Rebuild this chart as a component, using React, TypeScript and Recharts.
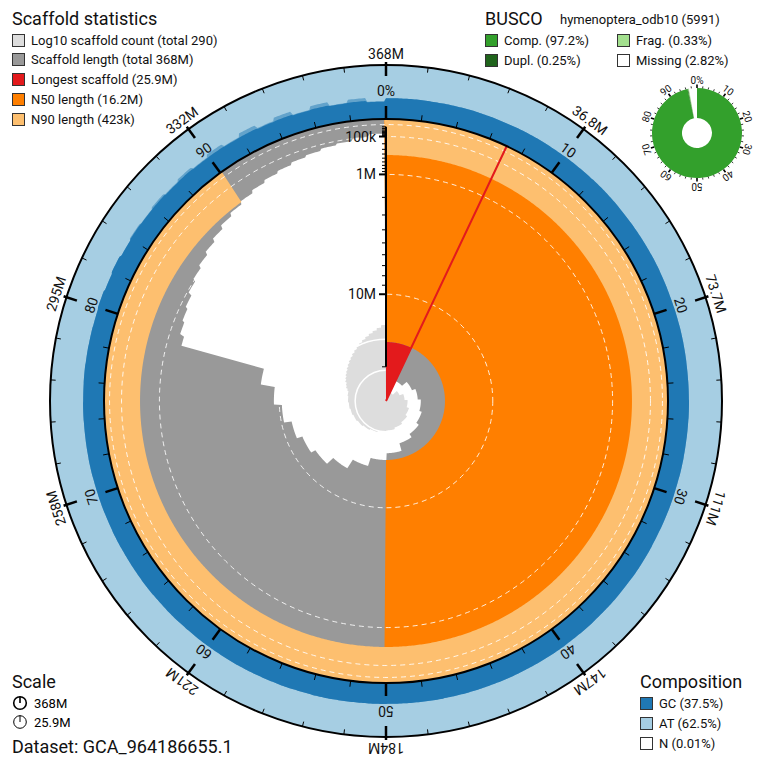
import React from 'react';
import {
  Cell,
  Pie,
  PieChart,
  PolarAngleAxis,
  PolarGrid,
  PolarRadiusAxis,
  Radar,
  RadarChart,
} from 'recharts';

const W = 764;
const H = 769;
const CX = 386;
const CY = 401;
const R_SNAIL = 282;
const R_OUTER = 336;
const R_COUNT = 76;
const BUSCO_CX = 697;
const BUSCO_CY = 133;

// assembly summary (lengths in Mb)
const TOTAL_MB = 368;
const SCAFFOLD_COUNT = 290;
const LONGEST_MB = 25.9;
const N50_MB = 16.2;
const N90_MB = 0.423;

// largest scaffolds
const TOP_SCAFFOLDS_MB = [
  25.9, 22.0, 21.0, 20.4, 19.9, 19.5, 19.0, 18.4, 17.2, 16.2, 15.0, 13.6, 12.5, 11.9, 11.2,
  10.3, 9.4, 7.9,
];
// remaining scaffolds: length and cumulative count per percent, 79% .. 99%
const TAIL_FIRST_PCT = 79;
const TAIL_LENGTHS_MB = [
  1.6, 1.4, 1.3, 1.2, 1.05, 0.95, 0.85, 0.75, 0.65, 0.55, 0.47, 0.4, 0.34, 0.29, 0.25, 0.21,
  0.18, 0.15, 0.13, 0.1, 0.07,
];
const TAIL_COUNTS = [
  20, 23, 25, 29, 32, 36, 40, 45, 51, 58, 65, 75, 85, 98, 113, 130, 151, 175, 203, 240, 290,
];

// GC % per percent of the assembly
const GC_MEAN = [
  38.6, 38.8, 38.5, 38.7, 38.9, 38.6, 38.4, 38.7, 38.8, 38.5,
  38.7, 38.6, 38.9, 38.8, 38.5, 38.6, 38.7, 38.9, 38.6, 38.4,
  38.6, 38.8, 38.7, 38.5, 38.6, 38.9, 38.7, 38.6, 38.8, 38.5,
  38.7, 38.6, 38.4, 38.8, 38.9, 38.6, 38.7, 38.5, 38.8, 38.6,
  38.9, 38.7, 38.6, 38.8, 38.5, 38.7, 38.6, 38.9, 38.7, 38.6,
  38.8, 38.6, 38.7, 38.9, 38.5, 38.8, 38.6, 38.7, 38.9, 38.6,
  38.7, 38.5, 38.8, 38.6, 38.9, 38.7, 38.6, 38.8, 38.5, 38.7,
  38.6, 38.9, 38.7, 38.6, 38.8, 38.5, 38.7, 38.3, 38.0, 37.6,
  38.6, 37.2, 38.9, 36.8, 38.1, 37.4, 37.8, 36.6, 37.3, 36.2,
  36.5, 35.8, 36.2, 35.0, 35.6, 34.2, 35.1, 33.8, 34.5, 32.0,
];
const GC_HIGH_FIRST_PCT = 84;
const GC_HIGH = [
  39.5, 38.0, 40.5, 37.9, 41.0, 37.4, 42.0, 37.0, 43.0, 36.5, 42.0, 35.2, 41.5, 34.5, 40.0, 33.0,
];

const LENGTH_RING_LABELS = ['368M', '36.8M', '73.7M', '111M', '147M', '184M', '221M', '258M', '295M', '332M'];
const PCT_RING_LABELS = ['0%', '10', '20', '30', '40', '50', '60', '70', '80', '90'];
const RADIUS_TICKS_MB = [
  0.02, 0.03, 0.04, 0.05, 0.06, 0.07, 0.08, 0.09, 0.1, 0.2, 0.3, 0.4, 0.5, 0.6, 0.7, 0.8, 0.9,
  1, 2, 3, 4, 5, 6, 7, 8, 9, 10, 20,
];
const RADIUS_LABELS: Record<string, string> = { '0.1': '100k', '1': '1M', '10': '10M' };
const GRID_TICKS_MB = [0.01, 0.1, 1, 10];
const COUNT_GRID_TICKS = [10, 100];

const BUSCO = [
  { name: 'Comp.', value: 96.95, color: '#33a02c' },
  { name: 'Dupl.', value: 0.25, color: '#20641c' },
  { name: 'Frag.', value: 0.33, color: '#a3e08e' },
  { name: 'Missing', value: 2.82, color: '#ffffff' },
];

const COLORS = {
  count: '#dddddd',
  length: '#999999',
  longest: '#e31a1c',
  n50: '#ff7f00',
  n90: '#fdbf6f',
  gc: '#1f78b4',
  at: '#a6cee3',
};

const BINS = 1000;
const TICK_ROWS = Array.from({ length: 50 }, (_, i) => ({ pct: i * 2 }));

const topEnds: number[] = [];
TOP_SCAFFOLDS_MB.reduce((acc, l) => {
  topEnds.push(acc + l);
  return acc + l;
}, 0);

function scaffoldAt(pct: number) {
  const pos = (pct / 100) * TOTAL_MB;
  const k = topEnds.findIndex((end) => pos < end);
  if (k >= 0) return { length: TOP_SCAFFOLDS_MB[k], count: k + 1 };
  const t = Math.min(TAIL_LENGTHS_MB.length - 1, Math.floor(pct) - TAIL_FIRST_PCT);
  return { length: TAIL_LENGTHS_MB[t], count: TAIL_COUNTS[t] };
}

const longestPct = (LONGEST_MB / TOTAL_MB) * 100;
const rows = Array.from({ length: BINS }, (_, i) => {
  const pct = (i / BINS) * 100;
  const s = scaffoldAt(pct);
  const g = Math.floor(pct);
  const hi = g >= GC_HIGH_FIRST_PCT ? GC_HIGH[g - GC_HIGH_FIRST_PCT] : GC_MEAN[g];
  return {
    bin: i,
    scaffold: [s.length, 0],
    n50: pct <= 50 ? [N50_MB, 0] : [0, 0],
    n90: pct <= 90 ? [N90_MB, 0] : [0, 0],
    longest: pct < longestPct ? [LONGEST_MB, N50_MB] : [LONGEST_MB, LONGEST_MB],
    count: s.count,
    gc: [0, GC_MEAN[g]],
    gcHigh: [0, Math.max(hi, GC_MEAN[g])],
  };
});

const layer: React.CSSProperties = { position: 'absolute', left: 0, top: 0 };
const noMargin = { top: 0, right: 0, bottom: 0, left: 0 };
const font = 'Roboto, "Noto Sans", sans-serif';

function polar(cx: number, cy: number, r: number, deg: number) {
  const rad = (-deg * Math.PI) / 180;
  return { x: cx + r * Math.cos(rad), y: cy + r * Math.sin(rad) };
}

function RingTick(props: any) {
  const pct = Number(props.payload.value);
  const deg = Number(props.payload.coordinate);
  const major = pct % 10 === 0;
  const rot = 90 - deg;
  const i0 = polar(CX, CY, R_SNAIL, deg);
  const i1 = polar(CX, CY, R_SNAIL + (major ? 13 : 6), deg);
  const o0 = polar(CX, CY, R_OUTER - (major ? 11 : 5), deg);
  const o1 = polar(CX, CY, R_OUTER + (major ? 3 : 0), deg);
  const inLab = polar(CX, CY, 305, deg);
  const outLab = polar(CX, CY, 342, deg);
  const idx = pct / 10;
  return (
    <g>
      <line x1={i0.x} y1={i0.y} x2={i1.x} y2={i1.y} stroke="#000" strokeWidth={major ? 2.5 : 1} />
      <line x1={o0.x} y1={o0.y} x2={o1.x} y2={o1.y} stroke="#000" strokeWidth={major ? 2.5 : 1} />
      {major && (
        <>
          <text
            x={inLab.x}
            y={inLab.y}
            transform={`rotate(${rot} ${inLab.x} ${inLab.y})`}
            textAnchor="middle"
            fontSize={14}
            fontFamily={font}
            fill="#111"
          >
            {PCT_RING_LABELS[idx]}
          </text>
          <text
            x={outLab.x}
            y={outLab.y}
            transform={`rotate(${rot} ${outLab.x} ${outLab.y})`}
            textAnchor="middle"
            fontSize={14}
            fontFamily={font}
            fill="#111"
          >
            {LENGTH_RING_LABELS[idx]}
          </text>
        </>
      )}
    </g>
  );
}

function LengthTick(props: any) {
  const { x, y, payload } = props;
  const label = RADIUS_LABELS[String(payload.value)];
  const len = label ? 7 : 4;
  return (
    <g>
      <line x1={x - len} y1={y} x2={x} y2={y} stroke="#000" strokeWidth={label ? 2 : 1} />
      {label && (
        <text x={x - 10} y={y} dy="0.36em" textAnchor="end" fontSize={14} fontFamily={font} fill="#111">
          {label}
        </text>
      )}
    </g>
  );
}

function BuscoTick(props: any) {
  const pct = Number(props.payload.value);
  const deg = Number(props.payload.coordinate);
  const major = pct % 10 === 0;
  const a = polar(BUSCO_CX, BUSCO_CY, 45, deg);
  const b = polar(BUSCO_CX, BUSCO_CY, major ? 48.5 : 47, deg);
  const lab = polar(BUSCO_CX, BUSCO_CY, 49.5, deg);
  return (
    <g>
      <line x1={a.x} y1={a.y} x2={b.x} y2={b.y} stroke="#000" strokeWidth={major ? 1.6 : 0.8} />
      {major && (
        <text
          x={lab.x}
          y={lab.y}
          transform={`rotate(${90 - deg} ${lab.x} ${lab.y})`}
          textAnchor="middle"
          fontSize={10}
          fontFamily={font}
          fill="#111"
        >
          {PCT_RING_LABELS[pct / 10]}
        </text>
      )}
    </g>
  );
}

function Swatch({ color }: { color: string }) {
  return (
    <span
      style={{
        display: 'inline-block',
        width: 13,
        height: 13,
        background: color,
        border: '1.5px solid #333',
        marginRight: 6,
        boxSizing: 'border-box',
      }}
    />
  );
}

function Item({ x, y, color, label }: { x: number; y: number; color: string; label: string }) {
  return (
    <div
      style={{
        position: 'absolute',
        left: x,
        top: y - 8,
        height: 16,
        display: 'flex',
        alignItems: 'center',
        fontSize: 13,
        whiteSpace: 'nowrap',
        color: '#111',
      }}
    >
      <Swatch color={color} />
      {label}
    </div>
  );
}

function Title({ x, y, text, size = 18 }: { x: number; y: number; text: string; size?: number }) {
  return (
    <div style={{ position: 'absolute', left: x, top: y, fontSize: size, lineHeight: '20px', whiteSpace: 'nowrap', color: '#111' }}>
      {text}
    </div>
  );
}

function ClockIcon({ thin }: { thin?: boolean }) {
  return (
    <svg width={16} height={16} style={{ marginRight: 6 }}>
      <circle cx={8} cy={8} r={6.3} fill="none" stroke="#000" strokeWidth={thin ? 1 : 1.6} />
      <line x1={8} y1={8} x2={8} y2={1.5} stroke="#000" strokeWidth={thin ? 1 : 1.6} />
    </svg>
  );
}

export default function App() {
  return (
    <div style={{ position: 'absolute', left: 0, top: 0, width: W, height: H, background: '#fff', fontFamily: font }}>
      {/* AT ring */}
      <div style={layer}>
        <PieChart width={W} height={H} margin={noMargin}>
          <Pie
            data={[{ v: 1 }]}
            dataKey="v"
            cx={CX}
            cy={CY}
            innerRadius={R_SNAIL}
            outerRadius={R_OUTER}
            startAngle={90}
            endAngle={-270}
            fill={COLORS.at}
            stroke="none"
            isAnimationActive={false}
          />
        </PieChart>
      </div>

      {/* GC ring */}
      <div style={layer}>
        <RadarChart width={W} height={H} cx={CX} cy={CY} innerRadius={R_SNAIL} outerRadius={R_OUTER} data={rows} margin={noMargin}>
          <PolarAngleAxis dataKey="bin" tick={false} tickLine={false} axisLine={false} />
          <PolarRadiusAxis type="number" domain={[0, 100]} allowDataOverflow tick={false} axisLine={false} />
          <Radar dataKey="gcHigh" fill={COLORS.gc} fillOpacity={0.5} stroke="none" isAnimationActive={false} />
          <Radar dataKey="gc" fill={COLORS.gc} fillOpacity={1} stroke="none" isAnimationActive={false} />
        </RadarChart>
      </div>

      {/* log10 scaffold count spiral */}
      <div style={layer}>
        <RadarChart width={W} height={H} cx={CX} cy={CY} outerRadius={R_COUNT} data={rows} margin={noMargin}>
          <PolarAngleAxis dataKey="bin" tick={false} tickLine={false} axisLine={false} />
          <PolarRadiusAxis type="number" scale="log" domain={[1, SCAFFOLD_COUNT]} allowDataOverflow tick={false} axisLine={false} />
          <Radar dataKey="count" fill={COLORS.count} fillOpacity={1} stroke="none" isAnimationActive={false} />
        </RadarChart>
      </div>
      <div style={layer}>
        <RadarChart width={W} height={H} cx={CX} cy={CY} outerRadius={R_COUNT} data={rows} margin={noMargin}>
          <PolarAngleAxis dataKey="bin" tick={false} tickLine={false} axisLine={false} />
          <PolarRadiusAxis
            type="number"
            scale="log"
            domain={[1, SCAFFOLD_COUNT]}
            ticks={COUNT_GRID_TICKS}
            allowDataOverflow
            tick={false}
            axisLine={false}
          />
          <PolarGrid gridType="circle" radialLines={false} stroke="#ffffff" strokeWidth={1.5} />
          <Radar dataKey="count" fill="none" stroke="none" isAnimationActive={false} />
        </RadarChart>
      </div>

      {/* scaffold length, N50, N90, longest */}
      <div style={layer}>
        <RadarChart width={W} height={H} cx={CX} cy={CY} outerRadius={R_SNAIL} data={rows} margin={noMargin}>
          <PolarAngleAxis dataKey="bin" tick={false} tickLine={false} axisLine={false} />
          <PolarRadiusAxis type="number" scale="sqrt" reversed domain={[0, LONGEST_MB]} allowDataOverflow tick={false} axisLine={false} />
          <Radar dataKey="scaffold" fill={COLORS.length} fillOpacity={1} stroke="none" isAnimationActive={false} />
          <Radar dataKey="n50" fill={COLORS.n50} fillOpacity={1} stroke="none" isAnimationActive={false} />
          <Radar dataKey="n90" fill={COLORS.n90} fillOpacity={1} stroke="none" isAnimationActive={false} />
          <Radar dataKey="longest" fill={COLORS.longest} fillOpacity={1} stroke="none" isAnimationActive={false} />
        </RadarChart>
      </div>

      {/* dashed length gridlines */}
      <div style={layer}>
        <RadarChart width={W} height={H} cx={CX} cy={CY} outerRadius={R_SNAIL} data={rows} margin={noMargin}>
          <PolarAngleAxis dataKey="bin" tick={false} tickLine={false} axisLine={false} />
          <PolarRadiusAxis
            type="number"
            scale="sqrt"
            reversed
            domain={[0, LONGEST_MB]}
            ticks={GRID_TICKS_MB}
            allowDataOverflow
            tick={false}
            axisLine={false}
          />
          <PolarGrid gridType="circle" radialLines={false} stroke="#ffffff" strokeOpacity={0.85} strokeDasharray="5 4" />
          <Radar dataKey="scaffold" fill="none" stroke="none" isAnimationActive={false} />
        </RadarChart>
      </div>

      {/* longest scaffold marker line */}
      <div style={layer}>
        <PieChart width={W} height={H} margin={noMargin}>
          <Pie
            data={[{ v: LONGEST_MB }, { v: 0.01 }, { v: TOTAL_MB - LONGEST_MB }]}
            dataKey="v"
            cx={CX}
            cy={CY}
            innerRadius={0}
            outerRadius={R_SNAIL}
            startAngle={90}
            endAngle={-270}
            isAnimationActive={false}
          >
            <Cell fill="none" stroke="none" />
            <Cell fill={COLORS.longest} stroke={COLORS.longest} strokeWidth={2} />
            <Cell fill="none" stroke="none" />
          </Pie>
        </PieChart>
      </div>

      {/* circles, ring ticks and the length axis */}
      <div style={layer}>
        <RadarChart width={W} height={H} cx={CX} cy={CY} outerRadius={R_SNAIL} data={TICK_ROWS} margin={noMargin}>
          <PolarGrid gridType="circle" radialLines={false} polarRadius={[R_SNAIL, R_OUTER]} stroke="#000" strokeWidth={2} />
          <PolarAngleAxis dataKey="pct" tick={RingTick} tickLine={false} axisLine={false} />
          <PolarRadiusAxis
            type="number"
            angle={90}
            scale="sqrt"
            reversed
            domain={[0, LONGEST_MB]}
            ticks={RADIUS_TICKS_MB}
            allowDataOverflow
            tick={LengthTick}
            axisLine={{ stroke: '#000', strokeWidth: 2 }}
          />
        </RadarChart>
      </div>

      {/* BUSCO donut */}
      <div style={layer}>
        <PieChart width={W} height={H} margin={noMargin}>
          <Pie
            data={BUSCO}
            dataKey="value"
            cx={BUSCO_CX}
            cy={BUSCO_CY}
            innerRadius={15}
            outerRadius={45}
            startAngle={90}
            endAngle={-270}
            stroke="none"
            isAnimationActive={false}
          >
            {BUSCO.map((b) => (
              <Cell key={b.name} fill={b.color} />
            ))}
          </Pie>
        </PieChart>
      </div>
      <div style={layer}>
        <RadarChart width={W} height={H} cx={BUSCO_CX} cy={BUSCO_CY} outerRadius={45} data={TICK_ROWS} margin={noMargin}>
          <PolarAngleAxis dataKey="pct" tick={BuscoTick} tickLine={false} axisLine={false} />
          <PolarRadiusAxis type="number" angle={90} domain={[0, 1]} tick={false} axisLine={{ stroke: '#555', strokeWidth: 1.5 }} />
        </RadarChart>
      </div>

      {/* legends */}
      <Title x={12} y={9} text="Scaffold statistics" />
      <Item x={12} y={40} color={COLORS.count} label={`Log10 scaffold count (total ${SCAFFOLD_COUNT})`} />
      <Item x={12} y={59} color={COLORS.length} label={`Scaffold length (total ${TOTAL_MB}M)`} />
      <Item x={12} y={79} color={COLORS.longest} label={`Longest scaffold (${LONGEST_MB}M)`} />
      <Item x={12} y={99} color={COLORS.n50} label={`N50 length (${N50_MB}M)`} />
      <Item x={12} y={119} color={COLORS.n90} label="N90 length (423k)" />

      <Title x={485} y={9} text="BUSCO" />
      <div style={{ position: 'absolute', left: 560, top: 12, fontSize: 13, color: '#111' }}>hymenoptera_odb10 (5991)</div>
      <Item x={485} y={40} color={BUSCO[0].color} label="Comp. (97.2%)" />
      <Item x={617} y={40} color={BUSCO[2].color} label="Frag. (0.33%)" />
      <Item x={485} y={60} color={BUSCO[1].color} label="Dupl. (0.25%)" />
      <Item x={617} y={60} color={BUSCO[3].color} label="Missing (2.82%)" />

      <Title x={12} y={672} text="Scale" />
      <div style={{ position: 'absolute', left: 12, top: 694, height: 18, display: 'flex', alignItems: 'center', fontSize: 13 }}>
        <ClockIcon />
        {TOTAL_MB}M
      </div>
      <div style={{ position: 'absolute', left: 12, top: 713, height: 18, display: 'flex', alignItems: 'center', fontSize: 13 }}>
        <ClockIcon thin />
        {LONGEST_MB}M
      </div>
      <Title x={12} y={737} text="Dataset: GCA_964186655.1" />

      <Title x={640} y={672} text="Composition" />
      <Item x={640} y={703} color={COLORS.gc} label="GC (37.5%)" />
      <Item x={640} y={723} color={COLORS.at} label="AT (62.5%)" />
      <Item x={640} y={743} color="#ffffff" label="N (0.01%)" />
    </div>
  );
}
